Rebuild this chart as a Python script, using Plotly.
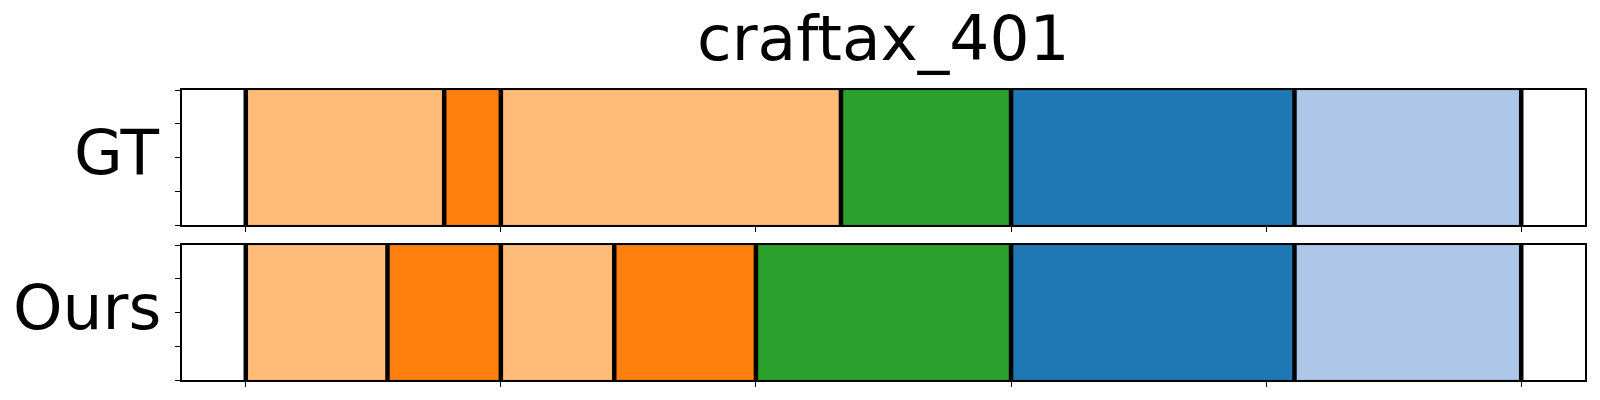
import plotly.graph_objects as go
from plotly.subplots import make_subplots

# ---- data ----
title_text = "craftax_401"
row_labels = ["GT", "Ours"]
n_frames = 45
tick_values = [0, 9, 18, 27, 36, 45]

gt_bounds = [0, 7, 9, 21, 27, 37, 45]
gt_colors = ["#ffbb78", "#ff7f0e", "#ffbb78", "#2ca02c", "#1f77b4", "#aec7e8"]

ours_bounds = [0, 5, 9, 13, 18, 27, 37, 45]
ours_colors = ["#ffbb78", "#ff7f0e", "#ffbb78", "#ff7f0e", "#2ca02c", "#1f77b4", "#aec7e8"]

FONT = "DejaVu Sans"

fig = make_subplots(rows=2, cols=1, shared_xaxes=False, vertical_spacing=20 / 290)

for r, (bounds, colors) in enumerate([(gt_bounds, gt_colors), (ours_bounds, ours_colors)], start=1):
    starts = bounds[:-1]
    lengths = [b - a for a, b in zip(bounds[:-1], bounds[1:])]
    fig.add_trace(go.Bar(
        orientation="h", y=[0.5] * len(starts), x=lengths, base=starts, width=1,
        marker=dict(color=colors, line=dict(color="rgba(0,0,0,0.12)", width=1)),
        showlegend=False, hoverinfo="skip"), row=r, col=1)
    lx, ly = [], []
    for b in bounds:
        lx += [b, b, None]
        ly += [0, 1, None]
    fig.add_trace(go.Scatter(x=lx, y=ly, mode="lines", line=dict(color="black", width=4.5),
                             showlegend=False, hoverinfo="skip"), row=r, col=1)

pad = 0.05 * n_frames
for r in (1, 2):
    fig.update_xaxes(range=[-pad, n_frames + pad], tickvals=tick_values, showticklabels=False,
                     ticks="outside", ticklen=5, tickcolor="black", tickwidth=1,
                     showline=True, linecolor="black", linewidth=1.5, mirror=True,
                     showgrid=False, zeroline=False, row=r, col=1)
    fig.update_yaxes(range=[0, 1], tickvals=[0, 0.25, 0.5, 0.75, 1], showticklabels=False,
                     ticks="outside", ticklen=5, tickcolor="black", tickwidth=1,
                     showline=True, linecolor="black", linewidth=1.5, mirror=True,
                     showgrid=False, zeroline=False, row=r, col=1)

fig.update_layout(
    width=1600, height=400, barmode="overlay",
    margin=dict(l=182, r=15, t=90, b=20),
    plot_bgcolor="white", paper_bgcolor="white",
    font=dict(family=FONT, color="black"),
    annotations=[
        dict(text=title_text, xref="paper", yref="paper", x=0.5, y=1 + (90 - 38) / 290,
             xanchor="center", yanchor="middle", showarrow=False, font=dict(size=63, family=FONT)),
        dict(text=row_labels[0], xref="paper", yref="paper", x=(162 - 182) / 1403, y=(380 - 152) / 290,
             xanchor="right", yanchor="middle", showarrow=False, font=dict(size=63, family=FONT)),
        dict(text=row_labels[1], xref="paper", yref="paper", x=(163 - 182) / 1403, y=(380 - 307) / 290,
             xanchor="right", yanchor="middle", showarrow=False, font=dict(size=63, family=FONT)),
    ],
)

fig.write_html("out.html", post_script="document.body.style.margin='0';",
               config={"displayModeBar": False})
